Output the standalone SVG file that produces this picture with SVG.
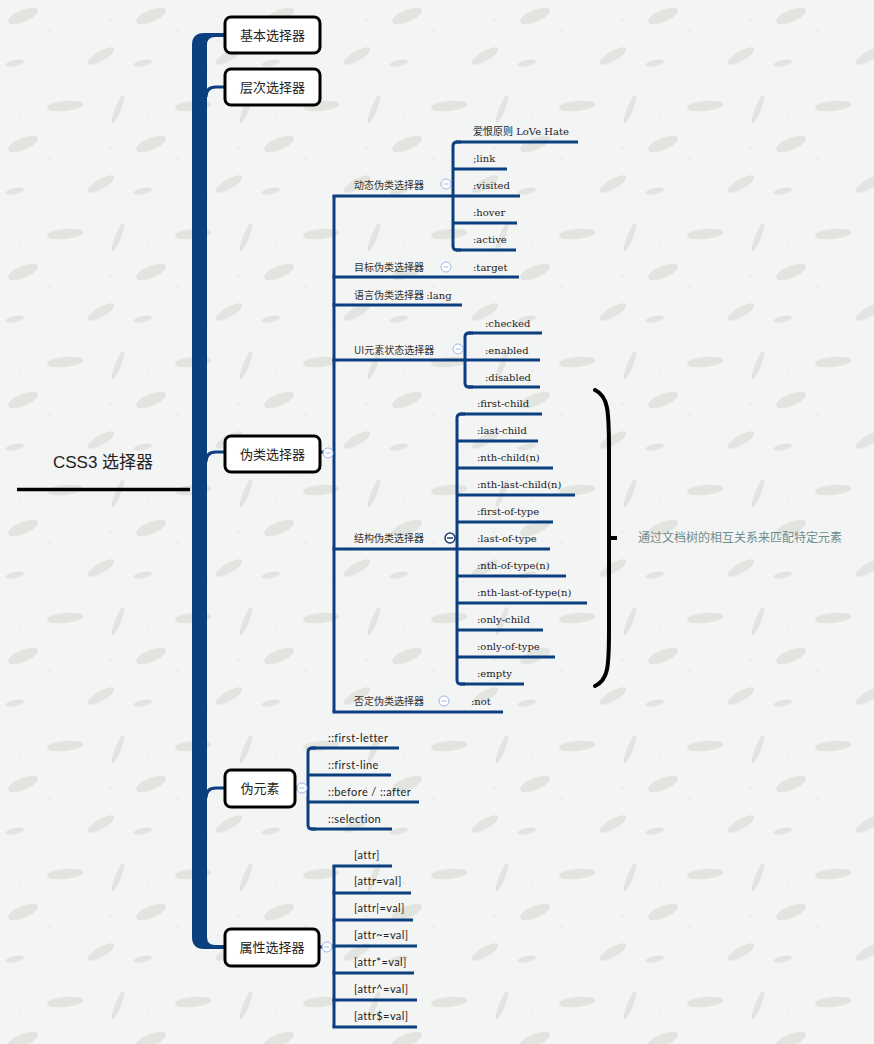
<svg xmlns="http://www.w3.org/2000/svg" width="874" height="1044" viewBox="0 0 874 1044">
<defs>
<pattern id="paper" patternUnits="userSpaceOnUse" x="0" y="0" width="128" height="128">
<rect width="128" height="128" fill="#f3f4f4"/>
<g fill="#d3d6d0" opacity="0.55">
<ellipse cx="23" cy="16" rx="16" ry="6" transform="rotate(-22 23 16)"/>
<ellipse cx="65" cy="106" rx="18" ry="5" transform="rotate(-5 65 106)"/>
<ellipse cx="101" cy="56" rx="15" ry="5" transform="rotate(-30 101 56)"/>
<ellipse cx="15" cy="63" rx="10" ry="3" transform="rotate(-12 15 63)"/>
<ellipse cx="118" cy="109" rx="3" ry="15" transform="rotate(22 118 109)"/>
</g>
<g fill="#b9ae9a" opacity="0.5">
<circle cx="50" cy="30" r="0.8"/><circle cx="80" cy="70" r="0.8"/><circle cx="40" cy="90" r="0.8"/>
<circle cx="110" cy="20" r="0.8"/><circle cx="90" cy="40" r="0.6"/><circle cx="20" cy="115" r="0.7"/>
</g>
</pattern>
<style>
.bl{stroke:#0b3f7f;stroke-width:3;fill:none}
.box{fill:#ffffff;stroke:#000;stroke-width:3}
.bt{font-family:"Noto Sans CJK SC",sans-serif;font-size:13px;fill:#222;text-anchor:middle}
.cj{font-family:"Noto Sans CJK SC",sans-serif;font-size:10px;fill:#333}
.sf{font-family:"DejaVu Serif","Noto Sans CJK SC",serif;font-size:10px;fill:#222}
.ss{font-family:"Lato","Noto Sans CJK SC",sans-serif;font-size:11px;letter-spacing:0.4px;fill:#222}
.cc{fill:#fff;stroke:#9fb5ea;stroke-width:1}
.cm{stroke:#9fb5ea;stroke-width:1}
</style>
</defs>
<rect width="874" height="1044" fill="url(#paper)"/>

<g id="root">
<text x="103" y="468" font-family="Liberation Sans,'Noto Sans CJK SC',sans-serif" font-size="17" fill="#222" text-anchor="middle">CSS3 选择器</text>
<line x1="17" y1="489.5" x2="190" y2="489.5" stroke="#000" stroke-width="3.5"/>
</g>

<g id="connectors">
<path d="M204,33 L225,33 L225,37 L215,37 Q207,37 207,45 L207,937 Q207,945 215,945 L225,945 L225,949 L204,949 Q192,949 192,937 L192,45 Q192,33 204,33 Z" fill="#0b3f7f"/>
<path class="bl" d="M206,97 Q206,87 216,87 L225,87"/>
<path class="bl" d="M206,462 Q206,452 216,452 L225,452"/>
<path class="bl" d="M206,798 Q206,788 216,788 L225,788"/>
<line class="bl" x1="320" y1="452" x2="334" y2="452"/>
<path class="bl" d="M334,196 L334,712"/>
<line class="bl" x1="332.5" y1="196" x2="520" y2="196"/>
<line class="bl" x1="332.5" y1="277" x2="519" y2="277"/>
<line class="bl" x1="332.5" y1="305" x2="462" y2="305"/>
<line class="bl" x1="332.5" y1="360" x2="540" y2="360"/>
<line class="bl" x1="332.5" y1="549" x2="550" y2="549"/>
<line class="bl" x1="332.5" y1="712" x2="503" y2="712"/>
<path class="bl" d="M461,142 L457,142 Q453,142 453,146 L453,246 Q453,250 457,250 L461,250"/>
<line class="bl" x1="456" y1="142" x2="578" y2="142"/>
<line class="bl" x1="453" y1="169" x2="507" y2="169"/>
<line class="bl" x1="453" y1="223" x2="517" y2="223"/>
<line class="bl" x1="456" y1="250" x2="516" y2="250"/>
<path class="bl" d="M473,333 L469,333 Q465,333 465,337 L465,383 Q465,387 469,387 L473,387"/>
<line class="bl" x1="468" y1="333" x2="542" y2="333"/>
<line class="bl" x1="468" y1="387" x2="540" y2="387"/>
<path class="bl" d="M465,414 L461,414 Q457,414 457,418 L457,680 Q457,684 461,684 L465,684"/>
<line class="bl" x1="460" y1="414" x2="542" y2="414"/>
<line class="bl" x1="457" y1="441" x2="538" y2="441"/>
<line class="bl" x1="457" y1="468" x2="553" y2="468"/>
<line class="bl" x1="457" y1="495" x2="575" y2="495"/>
<line class="bl" x1="457" y1="522" x2="553" y2="522"/>
<line class="bl" x1="457" y1="576" x2="566" y2="576"/>
<line class="bl" x1="457" y1="603" x2="587" y2="603"/>
<line class="bl" x1="457" y1="630" x2="543" y2="630"/>
<line class="bl" x1="457" y1="657" x2="555" y2="657"/>
<line class="bl" x1="460" y1="684" x2="524" y2="684"/>
<line class="bl" x1="295" y1="788" x2="308" y2="788"/>
<path class="bl" d="M316,748 L312,748 Q308,748 308,752 L308,825 Q308,829 312,829 L316,829"/>
<line class="bl" x1="311" y1="748" x2="399" y2="748"/>
<line class="bl" x1="308" y1="775" x2="391" y2="775"/>
<line class="bl" x1="308" y1="802" x2="419" y2="802"/>
<line class="bl" x1="311" y1="829" x2="392" y2="829"/>
<line class="bl" x1="319" y1="947" x2="334" y2="947"/>
<path class="bl" d="M334,866 L334,1027"/>
<line class="bl" x1="332.5" y1="866" x2="392" y2="866"/>
<line class="bl" x1="332.5" y1="893" x2="411" y2="893"/>
<line class="bl" x1="332.5" y1="920" x2="413" y2="920"/>
<line class="bl" x1="332.5" y1="946" x2="417" y2="946"/>
<line class="bl" x1="332.5" y1="973" x2="414" y2="973"/>
<line class="bl" x1="332.5" y1="1000" x2="417" y2="1000"/>
<line class="bl" x1="332.5" y1="1027" x2="417" y2="1027"/>
</g>

<g id="n-basic"><rect class="box" x="225" y="17" width="95" height="36" rx="6"/><text class="bt" x="272.5" y="40">基本选择器</text></g>
<g id="n-level"><rect class="box" x="225" y="69" width="95" height="36" rx="6"/><text class="bt" x="272.5" y="92">层次选择器</text></g>
<g id="n-pseudo-class"><rect class="box" x="225" y="436" width="95" height="36" rx="6"/><text class="bt" x="272.5" y="459">伪类选择器</text>
<circle class="cc" cx="328" cy="453" r="5"/><line class="cm" x1="325.5" y1="453" x2="330.5" y2="453"/></g>
<g id="n-pseudo-element"><rect class="box" x="225" y="770" width="70" height="37" rx="6"/><text class="bt" x="260" y="793">伪元素</text>
<circle class="cc" cx="302" cy="788" r="5"/><line class="cm" x1="299.5" y1="788" x2="304.5" y2="788"/></g>
<g id="n-attr"><rect class="box" x="225" y="929" width="94" height="37" rx="6"/><text class="bt" x="272" y="952">属性选择器</text>
<circle class="cc" cx="327" cy="947" r="5"/><line class="cm" x1="324.5" y1="947" x2="329.5" y2="947"/></g>

<g id="n-dynamic"><text class="cj" x="354" y="189">动态伪类选择器</text>
<circle class="cc" cx="446" cy="184" r="5"/><line class="cm" x1="443.5" y1="184" x2="448.5" y2="184"/></g>
<g id="n-lovehate"><text class="sf" x="473" y="135">爱恨原则 LoVe Hate</text></g>
<g id="n-link"><text class="sf" x="473" y="162">;link</text></g>
<g id="n-visited"><text class="sf" x="473" y="189">:visited</text></g>
<g id="n-hover"><text class="sf" x="473" y="216">:hover</text></g>
<g id="n-active"><text class="sf" x="473" y="243">:active</text></g>
<g id="n-targetcls"><text class="cj" x="354" y="271">目标伪类选择器</text>
<circle class="cc" cx="446" cy="267" r="5"/><line class="cm" x1="443.5" y1="267" x2="448.5" y2="267"/></g>
<g id="n-target"><text class="sf" x="473" y="271">:target</text></g>
<g id="n-lang"><text class="cj" x="354" y="299">语言伪类选择器 <tspan class="sf">:lang</tspan></text></g>
<g id="n-ui"><text class="cj" x="354" y="354">UI元素状态选择器</text>
<circle class="cc" cx="458" cy="349" r="5"/><line class="cm" x1="455.5" y1="349" x2="460.5" y2="349"/></g>
<g id="n-checked"><text class="sf" x="485" y="327">:checked</text></g>
<g id="n-enabled"><text class="sf" x="485" y="354">:enabled</text></g>
<g id="n-disabled"><text class="sf" x="485" y="381">:disabled</text></g>
<g id="n-struct"><text class="cj" x="354" y="542">结构伪类选择器</text>
<circle cx="450" cy="538" r="5" fill="#fff" stroke="#1c3b6e" stroke-width="1.5"/><line x1="447" y1="538" x2="453" y2="538" stroke="#1c3b6e" stroke-width="1.5"/></g>
<g id="n-fc"><text class="sf" x="477" y="407">:first-child</text></g>
<g id="n-lc"><text class="sf" x="477" y="434">:last-child</text></g>
<g id="n-nc"><text class="sf" x="477" y="461">:nth-child(n)</text></g>
<g id="n-nlc"><text class="sf" x="477" y="488">:nth-last-child(n)</text></g>
<g id="n-fot"><text class="sf" x="477" y="515">:first-of-type</text></g>
<g id="n-lot"><text class="sf" x="477" y="542">:last-of-type</text></g>
<g id="n-not"><text class="sf" x="477" y="569">:nth-of-type(n)</text></g>
<g id="n-nlot"><text class="sf" x="477" y="596">:nth-last-of-type(n)</text></g>
<g id="n-oc"><text class="sf" x="477" y="623">:only-child</text></g>
<g id="n-oot"><text class="sf" x="477" y="650">:only-of-type</text></g>
<g id="n-empty"><text class="sf" x="477" y="677">:empty</text></g>
<g id="n-negcls"><text class="cj" x="354" y="705">否定伪类选择器</text>
<circle class="cc" cx="444" cy="701" r="5"/><line class="cm" x1="441.5" y1="701" x2="446.5" y2="701"/></g>
<g id="n-neg"><text class="sf" x="471" y="705">:not</text></g>

<g id="n-brace">
<path d="M595,390 C608,396 609,410 609,450 L609,630 C609,668 608,680 595,686" fill="none" stroke="#000" stroke-width="4" stroke-linecap="round"/>
<line x1="609" y1="538" x2="617" y2="538" stroke="#000" stroke-width="4"/>
<text x="638" y="542" font-family="'Noto Sans CJK SC',sans-serif" font-size="12" fill="#6f8c8c">通过文档树的相互关系来匹配特定元素</text>
</g>

<g id="n-fl"><text class="ss" x="328" y="742">::first-letter</text></g>
<g id="n-fline"><text class="ss" x="328" y="769">::first-line</text></g>
<g id="n-ba"><text class="ss" x="328" y="796">::before / ::after</text></g>
<g id="n-sel"><text class="ss" x="328" y="823">::selection</text></g>

<g id="n-a1"><text class="ss" x="354" y="859">[attr]</text></g>
<g id="n-a2"><text class="ss" x="354" y="885">[attr=val]</text></g>
<g id="n-a3"><text class="ss" x="354" y="912">[attr|=val]</text></g>
<g id="n-a4"><text class="ss" x="354" y="939">[attr~=val]</text></g>
<g id="n-a5"><text class="ss" x="354" y="966">[attr*=val]</text></g>
<g id="n-a6"><text class="ss" x="354" y="993">[attr^=val]</text></g>
<g id="n-a7"><text class="ss" x="354" y="1020">[attr$=val]</text></g>
</svg>
